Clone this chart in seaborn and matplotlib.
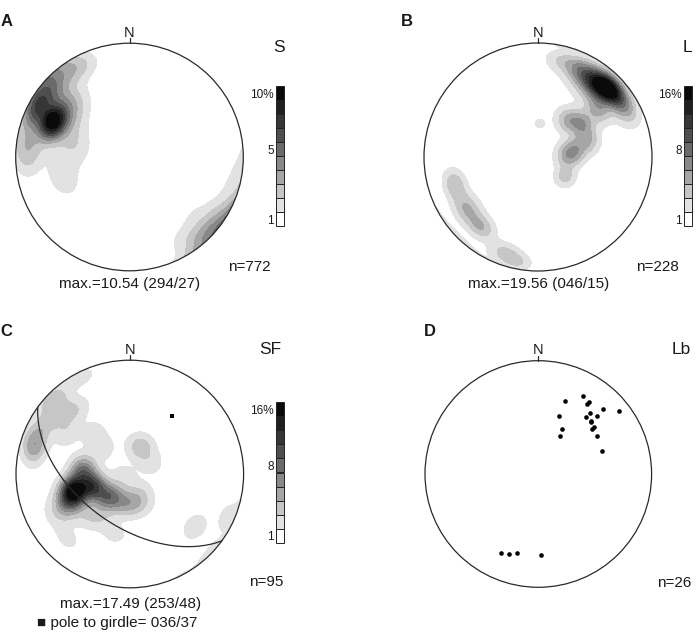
import numpy as np
import matplotlib
matplotlib.use("Agg")
import matplotlib.pyplot as plt
import seaborn as sns
from matplotlib.patches import Circle

# ------------------------------------------------------------------ data
# Density modes read from the nets: trend, plunge (deg), relative weight, spread (deg)
# Panel A  (S)
a_trend  = [294, 297, 309, 328, 333, 307, 287, 276, 268, 257, 247, 274,
            137, 124, 106, 131, 148, 95, 300]
a_plunge = [27, 9, 8, 8, 12, 32, 48, 11, 11, 38, 40, 52,
            5, 8, 8, 26, 16, 9, 22]
a_weight = [1.0, 0.50, 0.45, 0.20, 0.12, 0.30, 0.15, 0.25, 0.12, 0.14, 0.12, 0.10,
            0.30, 0.18, 0.08, 0.10, 0.10, 0.05, 0.30]
a_spread = [7, 7, 9, 8, 8, 10, 9, 9, 9, 9, 8, 9,
            9, 9, 9, 9, 9, 9, 15]
a_max = 10.54
a_levels = [1, 2, 3, 4, 5, 6, 7, 8, 9, 10]
a_ticklabels = ["1", "5", "10%"]

# Panel B  (L)
b_trend  = [46, 26, 13, 60, 38, 52, 39, 71, 89, 126, 52, 3,
            234, 252, 219, 199, 191, 40, 79]
b_plunge = [15, 16, 14, 13, 20, 50, 56, 52, 69, 66, 34, 66,
            24, 24, 22, 12, 7, 18, 63]
b_weight = [1.0, 0.35, 0.15, 0.35, 0.55, 0.36, 0.30, 0.30, 0.30, 0.25, 0.30, 0.12,
            0.33, 0.30, 0.30, 0.24, 0.18, 0.12, 0.30]
b_spread = [7, 7, 6, 7, 8, 6, 6, 6, 6, 5, 6, 3,
            7, 6, 6, 6, 5, 14, 6]
b_max = 19.56
b_levels = [1, 2.67, 4.33, 6, 7.67, 9.33, 11, 12.67, 14.33, 16]
b_ticklabels = ["1", "8", "16%"]

# Panel C  (SF)
c_trend  = [253, 251, 221, 275, 247, 185, 333, 315, 320, 299, 303, 284, 314, 21, 62,
            246, 160, 242, 224, 194, 129, 114, 225, 289, 318, 151,
            310, 287, 241, 216, 313]
c_plunge = [48, 62, 68, 56, 40, 69, 5, 9, 27, 14, 34, 16, 63, 69, 73,
            85, 67, 26, 22, 45, 27, 7, 46, 8, 50, 74,
            20, 14, 35, 53, 3]
c_weight = [1.0, 0.70, 0.55, 0.50, 0.40, 0.30, 0.11, 0.17, 0.16, 0.16, 0.15, 0.14, 0.12,
            0.26, 0.12, 0.12, 0.12, 0.11, 0.10, 0.10, 0.14, 0.11, 0.12, 0.12, 0.12, 0.12,
            0.20, 0.20, 0.12, 0.15, 0.12]
c_spread = [6.5] * 31
c_max = 17.49
c_levels = [1, 2.67, 4.33, 6, 7.67, 9.33, 11, 12.67, 14.33, 16]
c_ticklabels = ["1", "8", "16%"]
c_pole_trend, c_pole_plunge = 36, 37

# Panel D  (Lb) individual measurements
d_trend  = [20, 30, 35, 35, 45, 52, 20, 40, 40, 45, 45, 45, 28, 50, 50, 30, 57, 70,
            205, 200, 195, 178]
d_plunge = [32, 22, 23, 26, 20, 10, 45, 30, 35, 28, 34, 35, 53, 36, 38, 58, 38, 40,
            24, 26, 29, 29]

greys = ['#ffffff', '#e2e2e2', '#c6c6c6', '#a6a6a6', '#888888',
         '#6a6a6a', '#4e4e4e', '#363636', '#202020', '#0a0a0a']

# ------------------------------------------------------------------ helpers
W, H = 696, 639
sns.set_theme(style="white")
plt.rcParams['font.family'] = ['Liberation Sans', 'DejaVu Sans']
TXT = '#1a1a1a'

fig = plt.figure(figsize=(W / 100, H / 100), dpi=100)
fig.patch.set_facecolor('white')


def fx(x):
    return x / W


def fy(y):
    return 1 - y / H


def tp_vec(t, p):
    t = np.radians(np.asarray(t, float))
    p = np.radians(np.asarray(p, float))
    return np.stack([np.sin(t) * np.cos(p), np.cos(t) * np.cos(p), np.sin(p)], -1)


def project(t, p):
    t = np.radians(np.asarray(t, float))
    r = np.sqrt(2) * np.sin(np.radians(90 - np.asarray(p, float)) / 2)
    return r * np.sin(t), r * np.cos(t)


LIM = 1.1


def net_axes(cx, cy, R):
    s = R * LIM
    ax = fig.add_axes([fx(cx - s), fy(cy + s), 2 * s / W, 2 * s / H])
    ax.set_xlim(-LIM, LIM)
    ax.set_ylim(-LIM, LIM)
    ax.set_aspect('equal')
    ax.axis('off')
    circ = Circle((0, 0), 1.0, fill=False, ec='#2a2a2a', lw=0.9, zorder=5)
    ax.add_patch(circ)
    ax.plot([0, 0], [1.0, 1.045], color='#2a2a2a', lw=0.9, zorder=5)
    ax.text(0, 1.055, "N", ha='center', va='baseline', fontsize=10.5, color=TXT)
    return ax


# grid of directions
n = 401
gx = np.linspace(-1.03, 1.03, n)
GX, GY = np.meshgrid(gx, gx)
GR = np.clip(np.hypot(GX, GY), 0, 1)
g_pl = 90 - 2 * np.degrees(np.arcsin(GR / np.sqrt(2)))
g_tr = np.degrees(np.arctan2(GX, GY))
GV = tp_vec(g_tr, g_pl).reshape(-1, 3)


def density(tr, pl, w, spread, peak):
    v = tp_vec(tr, pl)
    cosang = np.abs(GV @ v.T)
    k = 1.0 / np.radians(np.asarray(spread, float)) ** 2
    f = (np.exp(k[None, :] * (cosang - 1)) * np.asarray(w)[None, :]).sum(1)
    f = f / f.max() * peak
    return f.reshape(GX.shape)


def contour_net(ax, tr, pl, w, spread, peak, levels):
    Z = density(tr, pl, w, spread, peak)
    lv = list(levels) + [max(peak, levels[-1]) * 10]
    cols = greys[1:] + [greys[-1]]
    cs = ax.contourf(GX, GY, Z, levels=lv, colors=cols, zorder=1)
    cs.set_edgecolor('face')
    cs.set_linewidth(0.5)
    clip = Circle((0, 0), 1.0, transform=ax.transData)
    cs.set_clip_path(clip)


def colorbar(x0, y0, y1, labels):
    ax = fig.add_axes([fx(x0 - 1), fy(y1 + 1), 10 / W, (y1 - y0 + 2) / H])
    ax.bar(0, 1, bottom=np.arange(10), width=1, color=greys, edgecolor='#222222',
           linewidth=0.7)
    ax.set_xlim(-0.625, 0.625)
    ax.set_ylim(-1 / 14, 10 + 1 / 14)
    for s in ax.spines.values():
        s.set_visible(False)
    ax.set_xticks([])
    ax.set_yticks([0.5, 5.5, 9.5])
    ax.set_yticklabels(labels, fontsize=8.5, color=TXT)
    ax.tick_params(axis='y', length=0, pad=1)


# ------------------------------------------------------------------ panel A
axA = net_axes(129.5, 157, 113.8)
contour_net(axA, a_trend, a_plunge, a_weight, a_spread, a_max, a_levels)
colorbar(276, 86, 226, a_ticklabels)

# ------------------------------------------------------------------ panel B
axB = net_axes(538, 157, 114)
contour_net(axB, b_trend, b_plunge, b_weight, b_spread, b_max, b_levels)
colorbar(684, 86, 226, b_ticklabels)

# ------------------------------------------------------------------ panel C
axC = net_axes(129.8, 474, 113.8)
contour_net(axC, c_trend, c_plunge, c_weight, c_spread, c_max, c_levels)
colorbar(276, 402.5, 542.5, c_ticklabels)
# great circle (girdle) from its pole
pn = tp_vec(c_pole_trend, c_pole_plunge)
sv = np.cross(pn, [0, 0, 1.0])
sv /= np.linalg.norm(sv)
dv = np.cross(pn, sv)
if dv[2] < 0:
    dv = -dv
phi = np.linspace(0, np.pi, 181)
gv = np.cos(phi)[:, None] * sv + np.sin(phi)[:, None] * dv
g_plunge = np.degrees(np.arcsin(np.clip(gv[:, 2], -1, 1)))
g_trend = np.degrees(np.arctan2(gv[:, 0], gv[:, 1]))
gcx, gcy = project(g_trend, g_plunge)
sns.lineplot(x=gcx, y=gcy, sort=False, estimator=None, color='#2a2a2a', lw=0.9,
             ax=axC, zorder=4)
px_, py_ = project([c_pole_trend], [c_pole_plunge])
sns.scatterplot(x=px_, y=py_, marker='s', s=9, color='black', linewidth=0, ax=axC,
                zorder=6, legend=False)

# ------------------------------------------------------------------ panel D
axD = net_axes(538.3, 474, 113.3)
dx, dy = project(d_trend, d_plunge)
sns.scatterplot(x=dx, y=dy, s=11, color='black', linewidth=0, ax=axD, zorder=6,
                legend=False)

# ------------------------------------------------------------------ texts
def t(x, y, s, **kw):
    kw.setdefault('ha', 'center')
    kw.setdefault('va', 'center')
    kw.setdefault('color', TXT)
    fig.text(fx(x), fy(y), s, **kw)


t(0.5, 21, "A", ha='left', fontsize=12, weight='bold')
t(401, 21, "B", ha='left', fontsize=12, weight='bold')
t(0.5, 331, "C", ha='left', fontsize=12, weight='bold')
t(424, 331, "D", ha='left', fontsize=12, weight='bold')

t(278.5, 47, "S", fontsize=12.5)
t(687, 47, "L", fontsize=12.5)
t(270.5, 349, "SF", fontsize=12.5)
t(681.5, 349, "Lb", fontsize=12.5)

t(249.5, 267, "n=772", fontsize=11)
t(129.7, 284, "max.=10.54 (294/27)", fontsize=11)
t(657, 267, "n=228", fontsize=11)
t(539, 284, "max.=19.56 (046/15)", fontsize=11)
t(266.7, 582.5, "n=95", fontsize=11)
t(131, 604, "max.=17.49 (253/48)", fontsize=11)
t(37, 622.5, "\u25a0 pole to girdle= 036/37", ha='left', fontsize=11)
t(674, 583, "n=26", fontsize=11)

fig.savefig("out.png", dpi=100, facecolor='white')
